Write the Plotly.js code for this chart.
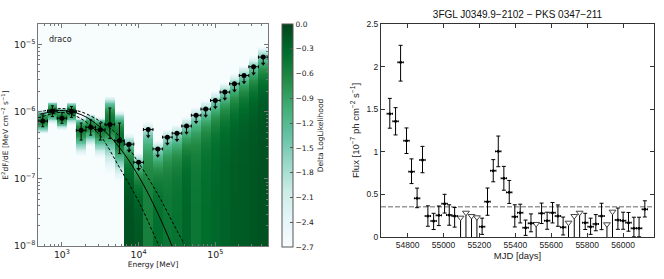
<!DOCTYPE html>
<html><head><meta charset="utf-8">
<script src="https://cdn.plot.ly/plotly-3.0.1.min.js"></script>
<style>html,body{margin:0;padding:0;background:#fff}#plot{width:664px;height:279px}</style>
</head><body><div id="plot"></div>
<script>
// ---------- SED / castro data (draco) ----------
const binEdges = [487, 649, 866, 1155, 1540, 2054, 2738, 3652, 4870, 6494, 8660, 11548, 15399, 20535, 27384, 36517, 48697, 64938, 86596, 115478, 153993, 205353, 273842, 365174, 486968];
const detFlux  = [7.3e-7, 1.03e-6, 8.05e-7, 1.01e-6, 5.3e-7, 5.9e-7, 5.4e-7, 6.5e-7, 3.7e-7];
const detErrHi = [1.7e-7, 2.0e-7, 1.8e-7, 1.9e-7, 1.5e-7, 1.7e-7, 1.4e-7, 4.9e-7, 3.1e-7];
const detErrLo = [1.3e-7, 1.8e-7, 1.3e-7, 1.8e-7, 1.5e-7, 1.4e-7, 1.6e-7, 2.5e-7, 1.3e-7];
const detPeakLL = [-0.55, -0.5, -0.5, -0.5, -0.55, -0.6, -0.5, -0.45, -0.4];
const ulFlux   = [3.3e-7, 1.77e-7, 5.45e-7, 2.8e-7, 4.2e-7, 4.8e-7, 6.15e-7, 8.9e-7, 1.1e-6, 1.48e-6, 1.97e-6, 2.62e-6, 3.48e-6, 4.7e-6, 6.55e-6];
const ulZeroLL = [-0.1, -0.15, -0.55, -0.35, -0.45, -0.4, -0.28, -0.45, -0.35, -0.3, -0.25, -0.2, -0.18, -0.15, -0.12];
const ulShape = 1.8;
// best-fit model and its error band
const modelE  = [487, 750, 1000, 1778, 3162, 5623, 10000, 17783, 31623, 56234];
const modelF  = [9.1e-7, 1.01e-6, 1.05e-6, 9.1e-7, 5.9e-7, 2.94e-7, 1.1e-7, 3.08e-8, 6.5e-9, 1.0e-9];
const modelHi = [1.0e-6, 1.08e-6, 1.12e-6, 1.0e-6, 7.2e-7, 4.3e-7, 1.74e-7, 5.9e-8, 1.7e-8, 5e-9];
const modelLo = [8.1e-7, 9.4e-7, 9.8e-7, 7.9e-7, 4.4e-7, 1.48e-7, 4.6e-8, 1.1e-8, 2.5e-9, 5e-10];
const colorTicks = [0, -0.3, -0.6, -0.9, -1.2, -1.5, -1.8, -2.1, -2.4, -2.7];

// ---------- light curve data (3FGL J0349.9-2102) ----------
const lcMjd  = [54701, 54733, 54761, 54794, 54822, 54853, 54883, 54913, 54945, 54974, 55006, 55032, 55062, 55215, 55245, 55277, 55305, 55336, 55366, 55397, 55427, 55457, 55487, 55546, 55577, 55607, 55637, 55666, 55789, 55819, 55848, 55880, 55971, 56000, 56030, 56060, 56089, 56121];
const lcFlux = [1.447, 1.358, 2.05, 1.13, 0.767, 0.454, 0.904, 0.246, 0.188, 0.254, 0.391, 0.258, 0.246, 0.121, 0.415, 0.778, 1.005, 0.689, 0.524, 0.238, 0.285, 0.109, 0.161, 0.278, 0.191, 0.285, 0.246, 0.114, 0.168, 0.121, 0.153, 0.246, 0.20, 0.191, 0.168, 0.102, 0.102, 0.325];
const lcErrHi = [0.18, 0.16, 0.20, 0.15, 0.15, 0.12, 0.16, 0.12, 0.09, 0.11, 0.11, 0.12, 0.10, 0.10, 0.16, 0.13, 0.18, 0.14, 0.14, 0.14, 0.10, 0.09, 0.11, 0.12, 0.10, 0.12, 0.13, 0.12, 0.11, 0.10, 0.11, 0.15, 0.14, 0.10, 0.12, 0.13, 0.13, 0.10];
const lcErrLo = [0.17, 0.16, 0.22, 0.15, 0.14, 0.11, 0.15, 0.12, 0.10, 0.12, 0.11, 0.12, 0.13, 0.09, 0.16, 0.13, 0.18, 0.14, 0.13, 0.12, 0.12, 0.09, 0.10, 0.12, 0.10, 0.12, 0.12, 0.09, 0.08, 0.09, 0.08, 0.16, 0.11, 0.10, 0.10, 0.10, 0.10, 0.09];
const lcBinHalf = 15;
const ulMjd = [55095, 55125, 55156, 55186, 55516, 55696, 55728, 55758, 55910, 55941];
const ulVal = [0.227, 0.285, 0.246, 0.231, 0.153, 0.168, 0.246, 0.285, 0.149, 0.297];
const meanFlux = 0.356;

// ---------- build castro heatmap ----------
const nBins = binEdges.length - 1;
const eCen = [];
for (let i = 0; i < nBins; i++) eCen.push(Math.sqrt(binEdges[i] * binEdges[i + 1]));
const nDet = detFlux.length;
const yLo = -8, yHi = -4.69, nY = 260;
const yEdges = [];
for (let j = 0; j <= nY; j++) yEdges.push(Math.pow(10, yLo + (yHi - yLo) * j / nY));
const z = [];
for (let j = 0; j < nY; j++) {
  const f = Math.sqrt(yEdges[j] * yEdges[j + 1]);
  const row = [];
  for (let i = 0; i < nBins; i++) {
    let v;
    if (i < nDet) {
      const s = f > detFlux[i] ? detErrHi[i] : detErrLo[i];
      v = detPeakLL[i] - 0.5 * Math.pow((f - detFlux[i]) / s, 2);
    } else {
      const k = i - nDet;
      v = ulZeroLL[k] - 1.35 * Math.pow(f / ulFlux[k], ulShape);
    }
    row.push(Math.max(v, -2.7));
  }
  z.push(row);
}
const BuGn = [[0, '#f7fcfd'], [0.125, '#e5f5f9'], [0.25, '#ccece6'], [0.375, '#99d8c9'], [0.5, '#66c2a4'], [0.625, '#41ae76'], [0.75, '#238b45'], [0.875, '#006d2c'], [1, '#00441b']];

const W = 664, H = 279;
const fL = {family: 'DejaVu Sans', size: 7.5, color: '#222'};
const fR = {family: 'Liberation Sans, Arial', size: 8.5, color: '#222'};

const detE = eCen.slice(0, nDet);
const ulE = eCen.slice(nDet);
const traces = [
  {type: 'heatmap', x: binEdges, y: yEdges, z: z, zmin: -2.7, zmax: 0, colorscale: BuGn, zsmooth: false,
   xaxis: 'x', yaxis: 'y', hoverinfo: 'skip',
   colorbar: {x: 282 / W, xanchor: 'left', xpad: 0, y: 1 - 135.5 / H, yanchor: 'middle', ypad: 0,
     len: 223, lenmode: 'pixels', thickness: 11, thicknessmode: 'pixels',
     outlinecolor: '#555', outlinewidth: 1, ticks: 'inside', ticklen: 3, tickcolor: '#555',
     tickvals: colorTicks, ticktext: colorTicks.map(v => v.toFixed(1).replace('-', '\u2212')),
     tickfont: fL, title: {text: 'Delta LogLikelihood', side: 'right', font: fL}}},
  {type: 'scatter', mode: 'lines', x: modelE, y: modelF, xaxis: 'x', yaxis: 'y', line: {color: '#000', width: 1, shape: 'spline'}, hoverinfo: 'skip'},
  {type: 'scatter', mode: 'lines', x: modelE, y: modelHi, xaxis: 'x', yaxis: 'y', line: {color: '#000', width: 1, dash: '3px,2px', shape: 'spline'}, hoverinfo: 'skip'},
  {type: 'scatter', mode: 'lines', x: modelE, y: modelLo, xaxis: 'x', yaxis: 'y', line: {color: '#000', width: 1, dash: '3px,2px', shape: 'spline'}, hoverinfo: 'skip'},
  {type: 'scatter', mode: 'markers', x: detE, y: detFlux, xaxis: 'x', yaxis: 'y',
   marker: {symbol: 'circle', size: 5, color: '#000'},
   error_x: {type: 'data', symmetric: false, array: detE.map((e, i) => binEdges[i + 1] - e), arrayminus: detE.map((e, i) => e - binEdges[i]), color: '#000', thickness: 1, width: 1.5},
   error_y: {type: 'data', symmetric: false, array: detErrHi, arrayminus: detErrLo, color: '#000', thickness: 1, width: 1.5}},
  {type: 'scatter', mode: 'markers', x: ulE, y: ulFlux, xaxis: 'x', yaxis: 'y',
   marker: {symbol: 'circle', size: 5, color: '#000'},
   error_x: {type: 'data', symmetric: false, array: ulE.map((e, k) => binEdges[nDet + k + 1] - e), arrayminus: ulE.map((e, k) => e - binEdges[nDet + k]), color: '#000', thickness: 1, width: 1.5},
   error_y: {type: 'data', symmetric: false, array: ulFlux.map(() => 0), arrayminus: ulFlux.map(v => v * (1 - Math.pow(10, -0.09))), color: '#000', thickness: 1, width: 0}},
  {type: 'scatter', mode: 'markers', x: ulE, y: ulFlux.map(v => v * Math.pow(10, -0.1)), xaxis: 'x', yaxis: 'y',
   marker: {symbol: 'triangle-down', size: 4, color: '#000'}, hoverinfo: 'skip'},
  // light curve
  {type: 'scatter', mode: 'markers', x: ulMjd, y: ulVal, xaxis: 'x2', yaxis: 'y2',
   marker: {symbol: 'triangle-down', size: 6, color: '#fff', line: {color: '#444', width: 1}},
   error_y: {type: 'data', symmetric: false, array: ulVal.map(() => 0), arrayminus: ulVal, color: '#000', thickness: 1, width: 0}},
  {type: 'scatter', mode: 'markers', x: lcMjd, y: lcFlux, xaxis: 'x2', yaxis: 'y2',
   marker: {symbol: 'circle', size: 3, color: '#000'},
   error_x: {type: 'constant', value: lcBinHalf, color: '#000', thickness: 1, width: 1},
   error_y: {type: 'data', symmetric: false, array: lcErrHi, arrayminus: lcErrLo, color: '#000', thickness: 1, width: 2}}
];

const axL = {showline: true, linecolor: '#777', linewidth: 1, mirror: 'allticks', ticks: 'inside', ticklen: 4, tickcolor: '#777',
  showgrid: false, zeroline: false, tickfont: fL};
const axR = {showline: true, linecolor: '#333', linewidth: 1, mirror: 'allticks', ticks: 'inside', ticklen: 4, tickcolor: '#333',
  showgrid: false, zeroline: false, tickfont: fR};

const layout = {
  width: W, height: H, autosize: false, margin: {l: 0, r: 0, t: 0, b: 0},
  paper_bgcolor: '#fff', plot_bgcolor: '#fff', showlegend: false,
  title: {text: '3FGL J0349.9\u22122102 \u2212 PKS 0347\u2212211', font: {family: 'Liberation Sans, Arial', size: 10, color: '#111'},
    x: 517.5 / W, xanchor: 'center', xref: 'paper', y: 1 - 14 / H, yanchor: 'middle', yref: 'paper'},
  xaxis: Object.assign({}, axL, {domain: [38 / W, 268 / W], anchor: 'y', type: 'log',
    range: [Math.log10(binEdges[0]), Math.log10(binEdges[nBins])], dtick: 1, exponentformat: 'power',
    minor: {ticks: 'inside', ticklen: 2, tickcolor: '#777', dtick: 'D1', showgrid: false},
    title: {text: 'Energy [MeV]', font: fL, standoff: 2}}),
  yaxis: Object.assign({}, axL, {domain: [1 - 246 / H, 1 - 24 / H], anchor: 'x', type: 'log',
    range: [yLo, yHi], dtick: 1, exponentformat: 'power',
    minor: {ticks: 'inside', ticklen: 2, tickcolor: '#777', dtick: 'D1', showgrid: false},
    title: {text: 'E<sup>2</sup>dF/dE [MeV cm<sup>\u22122</sup> s<sup>\u22121</sup>]', font: fL, standoff: 6}}),
  xaxis2: Object.assign({}, axR, {domain: [381 / W, 654 / W], anchor: 'y2', range: [54652, 56172],
    tick0: 54800, dtick: 200, tickformat: 'd',
    title: {text: 'MJD [days]', font: {family: 'Liberation Sans, Arial', size: 9.5, color: '#222'}, standoff: 3}}),
  yaxis2: Object.assign({}, axR, {domain: [1 - 237 / H, 1 - 24 / H], anchor: 'x2', range: [0, 2.5], dtick: 0.5,
    title: {text: 'Flux [10<sup>\u22127</sup> ph cm<sup>\u22122</sup> s<sup>\u22121</sup>]', font: {family: 'Liberation Sans, Arial', size: 9.5, color: '#222'}, standoff: 5}}),
  shapes: [{type: 'line', xref: 'x2 domain', x0: 0, x1: 1, yref: 'y2', y0: meanFlux, y1: meanFlux,
    line: {color: '#999', width: 1.5, dash: '5px,2px'}, layer: 'below'}],
  annotations: [{xref: 'x domain', yref: 'y domain', x: 0.04, y: 0.928, xanchor: 'left', yanchor: 'middle',
    text: 'draco', showarrow: false, font: {family: 'DejaVu Sans', size: 8, color: '#222'}}]
};
Plotly.newPlot('plot', traces, layout, {staticPlot: true, displayModeBar: false});
</script></body></html>
